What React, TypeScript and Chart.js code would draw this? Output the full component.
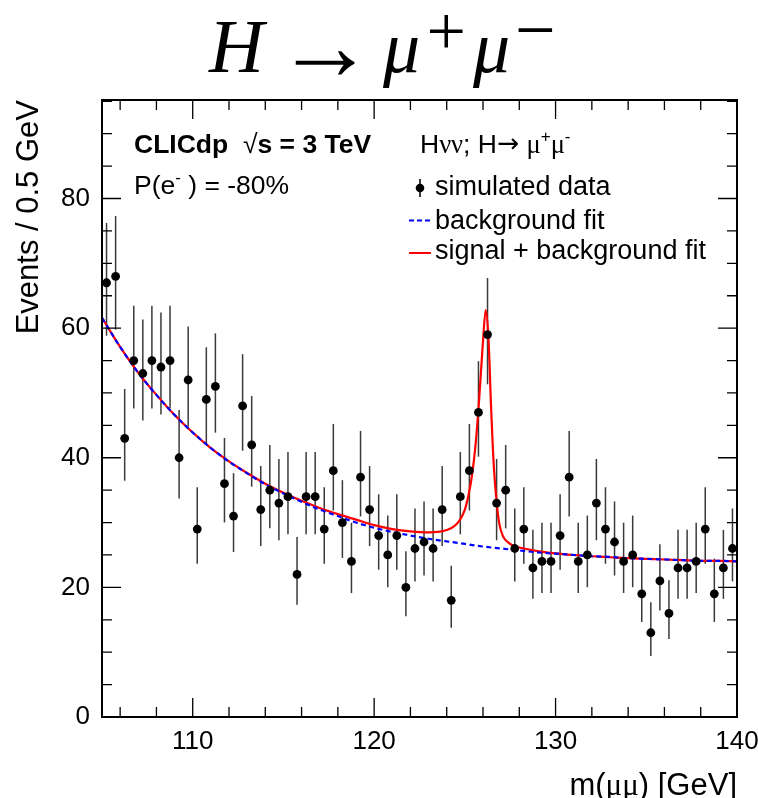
import React, { useEffect, useRef } from "react";
import { Chart, registerables } from "chart.js";

Chart.register(...registerables);

// ---- data ----
const binCenters = [
  105.25, 105.75, 106.25, 106.75, 107.25, 107.75, 108.25, 108.75, 109.25, 109.75,
  110.25, 110.75, 111.25, 111.75, 112.25, 112.75, 113.25, 113.75, 114.25, 114.75,
  115.25, 115.75, 116.25, 116.75, 117.25, 117.75, 118.25, 118.75, 119.25, 119.75,
  120.25, 120.75, 121.25, 121.75, 122.25, 122.75, 123.25, 123.75, 124.25, 124.75,
  125.25, 125.75, 126.25, 126.75, 127.25, 127.75, 128.25, 128.75, 129.25, 129.75,
  130.25, 130.75, 131.25, 131.75, 132.25, 132.75, 133.25, 133.75, 134.25, 134.75,
  135.25, 135.75, 136.25, 136.75, 137.25, 137.75, 138.25, 138.75, 139.25, 139.75,
];
const counts = [
  67, 68, 43, 55, 53, 55, 54, 55, 40, 52,
  29, 49, 51, 36, 31, 48, 42, 32, 35, 33,
  34, 22, 34, 34, 29, 38, 30, 24, 37, 32,
  28, 25, 28, 20, 26, 27, 26, 32, 18, 34,
  38, 47, 59, 33, 35, 26, 29, 23, 24, 24,
  28, 37, 24, 25, 33, 29, 27, 24, 25, 19,
  13, 21, 16, 23, 23, 24, 29, 19, 23, 26,
];

const bkgFitX = [
  105, 106, 107, 108, 109, 110, 111, 112, 113, 114, 115, 116, 117, 118, 119, 120, 121, 122,
  123, 124, 125, 126, 127, 128, 129, 130, 131, 132, 133, 134, 135, 136, 137, 138, 139, 140,
];
const bkgFitY = [
  61.6, 57.1, 53.1, 49.7, 46.6, 43.9, 41.5, 39.4, 37.6, 35.9, 34.5, 33.2, 32.0, 31.0, 30.0, 29.2, 28.55, 28.0,
  27.5, 27.1, 26.7, 26.3, 26.0, 25.7, 25.4, 25.2, 25.0, 24.8, 24.7, 24.5, 24.4, 24.3, 24.2, 24.1, 24.1, 24.0,
];

const sbFitX = [
  105, 106, 107, 108, 109, 110, 111, 112, 113, 114, 115, 116, 117, 118, 119, 120, 121, 122, 123, 123.5,
  124, 124.4, 124.7, 125.0, 125.2, 125.4, 125.6, 125.8, 126.0, 126.15, 126.3, 126.45, 126.6, 126.75, 126.9,
  127.1, 127.4, 127.7, 128, 129, 130, 131, 132, 133, 134, 135, 136, 137, 138, 139, 140,
];
const sbFitY = [
  61.6, 57.1, 53.1, 49.7, 46.6, 43.9, 41.5, 39.45, 37.65, 36.0, 34.6, 33.35, 32.25, 31.3, 30.45, 29.6, 29.0, 28.65, 28.5, 28.55,
  28.85, 29.4, 30.3, 32.0, 34.2, 37.4, 42.3, 49.5, 58.0, 62.8, 58.5, 47.5, 38.5, 33.2, 29.8,
  27.9, 26.9, 26.4, 26.15, 25.6, 25.25, 25.0, 24.8, 24.65, 24.5, 24.4, 24.3, 24.2, 24.1, 24.1, 24.0,
];

const xMajorTicks = [110, 120, 130, 140];
const xMinorTicks = [106, 108, 112, 114, 116, 118, 122, 124, 126, 128, 132, 134, 136, 138];
const yMajorTicks = [0, 20, 40, 60, 80];
const yMinorTicks = [5, 10, 15, 25, 30, 35, 45, 50, 55, 65, 70, 75, 85, 90, 95];

const SANS = "'Liberation Sans', Arial, Helvetica, sans-serif";
const SERIF = "'Liberation Serif', 'Times New Roman', serif";

type Seg = { t: string; font: string; dy?: number };

function drawSegs(ctx: CanvasRenderingContext2D, segs: Seg[], x: number, y: number, align: "left" | "right" = "left") {
  ctx.textAlign = "left";
  ctx.textBaseline = "alphabetic";
  const widths = segs.map((s) => {
    ctx.font = s.font;
    return ctx.measureText(s.t).width;
  });
  const total = widths.reduce((a, b) => a + b, 0);
  let cx = align === "right" ? x - total : x;
  segs.forEach((s, i) => {
    ctx.font = s.font;
    ctx.fillText(s.t, cx, y + (s.dy || 0));
    cx += widths[i];
  });
}

function inkLeft(ctx: CanvasRenderingContext2D, t: string, font: string, L: number, base: number) {
  ctx.font = font;
  ctx.textAlign = "left";
  ctx.textBaseline = "alphabetic";
  const m = ctx.measureText(t);
  ctx.fillText(t, L + m.actualBoundingBoxLeft, base);
}
function inkCenter(ctx: CanvasRenderingContext2D, t: string, family: string, baseSize: number, targetW: number, cx: number, cy: number) {
  ctx.textAlign = "left";
  ctx.textBaseline = "alphabetic";
  ctx.font = `${baseSize}px ${family}`;
  let m = ctx.measureText(t);
  const w0 = m.actualBoundingBoxRight + m.actualBoundingBoxLeft;
  const size = w0 > 0 ? (baseSize * targetW) / w0 : baseSize;
  ctx.font = `${size}px ${family}`;
  m = ctx.measureText(t);
  const w = m.actualBoundingBoxRight + m.actualBoundingBoxLeft;
  const x = cx - w / 2 + m.actualBoundingBoxLeft;
  const y = cy + (m.actualBoundingBoxAscent - m.actualBoundingBoxDescent) / 2;
  ctx.fillText(t, x, y);
}

const rootPlugin = {
  id: "rootStyle",
  beforeDatasetsDraw(chart: any) {
    const { ctx, chartArea: a, scales } = chart;
    const xs = scales.x;
    const ys = scales.y;
    ctx.save();
    ctx.beginPath();
    ctx.rect(a.left, a.top, a.right - a.left, a.bottom - a.top);
    ctx.clip();
    ctx.strokeStyle = "#3a3a3a";
    ctx.lineWidth = 1.5;
    counts.forEach((n, i) => {
      const px = xs.getPixelForValue(binCenters[i]);
      const up = 1 + Math.sqrt(n + 0.75);
      const dn = Math.sqrt(n - 0.25);
      ctx.beginPath();
      ctx.moveTo(px, ys.getPixelForValue(n - dn));
      ctx.lineTo(px, ys.getPixelForValue(n + up));
      ctx.stroke();
    });
    ctx.restore();
  },
  afterDraw(chart: any) {
    const { ctx, chartArea: a, scales } = chart;
    const xs = scales.x;
    const ys = scales.y;
    const L = a.left, R = a.right, T = a.top, B = a.bottom;
    ctx.save();
    ctx.strokeStyle = "#000";
    ctx.lineWidth = 1.3;
    const xt = (v: number, len: number) => {
      const p = xs.getPixelForValue(v);
      ctx.beginPath();
      ctx.moveTo(p, B);
      ctx.lineTo(p, B - len);
      ctx.moveTo(p, T);
      ctx.lineTo(p, T + len);
      ctx.stroke();
    };
    const yt = (v: number, len: number) => {
      const p = ys.getPixelForValue(v);
      ctx.beginPath();
      ctx.moveTo(L, p);
      ctx.lineTo(L + len, p);
      ctx.moveTo(R, p);
      ctx.lineTo(R - len, p);
      ctx.stroke();
    };
    xMajorTicks.forEach((v) => xt(v, 19));
    xMinorTicks.forEach((v) => xt(v, 10));
    yMajorTicks.forEach((v) => yt(v, 19));
    yMinorTicks.forEach((v) => yt(v, 10));
    ctx.lineWidth = 2;
    ctx.strokeRect(L, T, R - L, B - T);

    ctx.fillStyle = "#000";
    // title
    inkLeft(ctx, "H", `italic 76px ${SERIF}`, 208, 71.7);
    inkCenter(ctx, "\u2192", SERIF, 76, 60, 325, 63);
    inkLeft(ctx, "\u03bc", `italic 74px ${SERIF}`, 382, 72);
    inkCenter(ctx, "+", SERIF, 70, 34, 446.5, 31);
    inkLeft(ctx, "\u03bc", `italic 74px ${SERIF}`, 472, 72);
    inkCenter(ctx, "\u2212", SERIF, 70, 35, 535.5, 30);

    // axis titles
    ctx.save();
    ctx.translate(37.5, 100);
    ctx.rotate(-Math.PI / 2);
    ctx.font = `31px ${SANS}`;
    ctx.textAlign = "right";
    ctx.textBaseline = "alphabetic";
    ctx.fillText("Events / 0.5 GeV", 0, 0);
    ctx.restore();
    drawSegs(
      ctx,
      [
        { t: "m(", font: `31px ${SANS}` },
        { t: "\u03bc\u03bc", font: `31px ${SERIF}` },
        { t: ") [GeV]", font: `31px ${SANS}` },
      ],
      737,
      795,
      "right"
    );

    const f = `26.5px ${SANS}`;
    const fb = `bold 26.5px ${SANS}`;
    const sup = `17px ${SANS}`;
    drawSegs(
      ctx,
      [
        { t: "CLICdp", font: fb },
        { t: "  ", font: fb },
        { t: "\u221a", font: f },
        { t: "s = 3 TeV", font: fb },
      ],
      134,
      153
    );
    drawSegs(
      ctx,
      [
        { t: "P(e", font: f },
        { t: "-", font: sup, dy: -11 },
        { t: " ) = -80%", font: f },
      ],
      134,
      193.5
    );
    drawSegs(
      ctx,
      [
        { t: "H", font: f },
        { t: "\u03bd\u03bd", font: `26.5px ${SERIF}` },
        { t: "; H", font: f },
        { t: "\u2192", font: `26.5px 'DejaVu Sans', ${SANS}`, dy: -1 },
        { t: " ", font: f },
        { t: "\u03bc", font: `26.5px ${SERIF}` },
        { t: "+", font: sup, dy: -11 },
        { t: "\u03bc", font: `26.5px ${SERIF}` },
        { t: "-", font: sup, dy: -11 },
      ],
      420,
      153
    );

    // legend
    const lf = `27px ${SANS}`;
    ctx.strokeStyle = "#000";
    ctx.lineWidth = 1.5;
    ctx.beginPath();
    ctx.moveTo(420, 179);
    ctx.lineTo(420, 197);
    ctx.stroke();
    ctx.beginPath();
    ctx.arc(420, 188, 4.3, 0, Math.PI * 2);
    ctx.fill();
    drawSegs(ctx, [{ t: "simulated data", font: lf }], 435, 194.5);

    ctx.strokeStyle = "#0000ff";
    ctx.lineWidth = 2;
    ctx.setLineDash([5, 3]);
    ctx.beginPath();
    ctx.moveTo(409, 220.5);
    ctx.lineTo(431, 220.5);
    ctx.stroke();
    ctx.setLineDash([]);
    drawSegs(ctx, [{ t: "background fit", font: lf }], 435, 228.5);

    ctx.strokeStyle = "#ff0000";
    ctx.lineWidth = 2;
    ctx.beginPath();
    ctx.moveTo(409, 253);
    ctx.lineTo(431, 253);
    ctx.stroke();
    drawSegs(ctx, [{ t: "signal + background fit", font: lf }], 435, 258.5);

    ctx.restore();
  },
};

export default function App() {
  const ref = useRef<HTMLCanvasElement | null>(null);
  useEffect(() => {
    const canvas = ref.current;
    if (!canvas) return;
    const chart = new Chart(canvas, {
      type: "scatter",
      data: {
        datasets: [
          {
            label: "simulated data",
            data: binCenters.map((x, i) => ({ x, y: counts[i] })),
            pointRadius: 4.4,
            pointHoverRadius: 4.4,
            backgroundColor: "#000",
            borderWidth: 0,
            order: 0,
          } as any,
          {
            type: "line",
            label: "background fit",
            data: bkgFitX.map((x, i) => ({ x, y: bkgFitY[i] })),
            borderColor: "#0000ff",
            borderWidth: 2.2,
            borderDash: [5, 3.5],
            pointRadius: 0,
            fill: false,
            cubicInterpolationMode: "monotone",
            order: 1,
          } as any,
          {
            type: "line",
            label: "signal + background fit",
            data: sbFitX.map((x, i) => ({ x, y: sbFitY[i] })),
            borderColor: "#ff0000",
            borderWidth: 2.2,
            pointRadius: 0,
            fill: false,
            cubicInterpolationMode: "monotone",
            order: 2,
          } as any,
        ],
      },
      options: {
        animation: false,
        responsive: false,
        devicePixelRatio: 1,
        layout: { padding: { left: 0, top: 100, right: 21, bottom: 0 } },
        plugins: {
          legend: { display: false },
          tooltip: { enabled: false },
          title: { display: false },
        },
        scales: {
          x: {
            type: "linear",
            min: 105,
            max: 140,
            grid: { display: false, drawTicks: false },
            border: { display: false },
            afterBuildTicks: (s: any) => {
              s.ticks = xMajorTicks.map((v) => ({ value: v }));
            },
            afterFit: (s: any) => {
              s.height = 81;
              s.paddingLeft = 0;
              s.paddingRight = 0;
            },
            ticks: {
              autoSkip: false,
              maxRotation: 0,
              padding: 9,
              color: "#000",
              font: { family: SANS, size: 26 },
              callback: (v: any) => String(v),
            },
          },
          y: {
            type: "linear",
            min: 0,
            max: 95.2,
            grid: { display: false, drawTicks: false },
            border: { display: false },
            afterBuildTicks: (s: any) => {
              s.ticks = yMajorTicks.map((v) => ({ value: v }));
            },
            afterFit: (s: any) => {
              s.width = 102;
              s.paddingTop = 0;
              s.paddingBottom = 0;
            },
            ticks: {
              padding: 12,
              color: "#000",
              font: { family: SANS, size: 26 },
              callback: (v: any) => String(v),
            },
          },
        },
      } as any,
      plugins: [rootPlugin as any],
    });
    return () => chart.destroy();
  }, []);
  return (
    <div style={{ position: "absolute", left: 0, top: 0, width: 758, height: 798, background: "#fff" }}>
      <canvas ref={ref} width={758} height={798} style={{ display: "block" }} />
    </div>
  );
}
